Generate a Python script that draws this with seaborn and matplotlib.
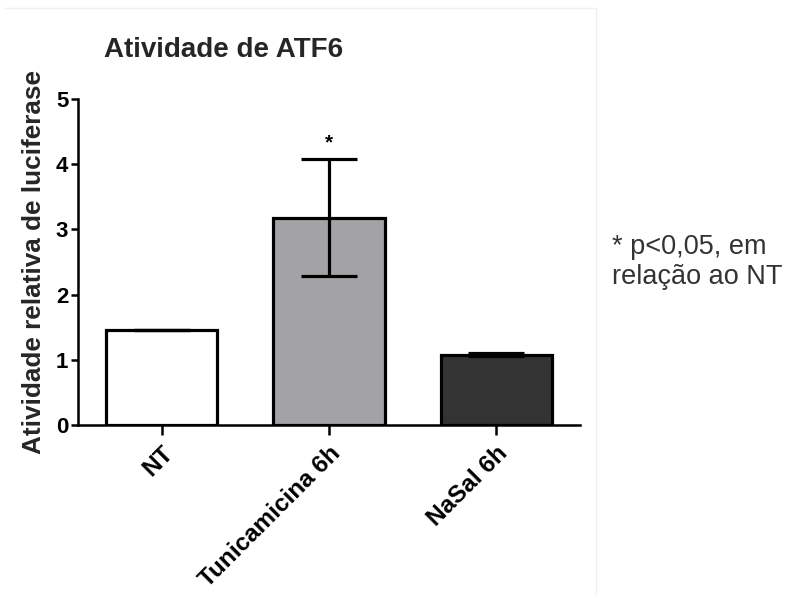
import matplotlib
matplotlib.use("Agg")
import matplotlib.pyplot as plt
from matplotlib.lines import Line2D
import seaborn as sns
import pandas as pd

# Luciferase reporter data (mean ± SEM)
groups = ["NT", "Tunicamicina 6h", "NaSal 6h"]
means = [1.46, 3.18, 1.08]
sems = [0.0, 0.90, 0.02]
bar_colors = ["#ffffff", "#a2a2a7", "#333333"]
y_ticks = [0, 1, 2, 3, 4, 5]

sns.set_theme(style="ticks")
plt.rcParams["font.family"] = ["Liberation Sans", "DejaVu Sans"]

df = pd.DataFrame({"grupo": groups, "atividade": means})

fig = plt.figure(figsize=(7.88, 5.95), dpi=100)
ax = fig.add_axes([78 / 788, 1 - 425 / 595, (580 - 78) / 788, (425 - 99) / 595])

sns.barplot(data=df, x="grupo", y="atividade", hue="grupo", palette=bar_colors,
            order=groups, hue_order=groups, width=0.665, errorbar=None,
            edgecolor="black", linewidth=2.3, legend=False, ax=ax, zorder=2)

ax.errorbar(range(len(groups)), means, yerr=sems, fmt="none", ecolor="black",
            elinewidth=2.3, capsize=20, capthick=2.3, zorder=3)

ax.text(1, 4.33, "*", ha="center", va="center", fontsize=15, fontweight="bold",
        color="black")

ax.set_xlim(-0.5, 2.5)
ax.set_ylim(0, 5)
ax.set_yticks(y_ticks)
ax.set_yticklabels([str(t) for t in y_ticks], fontsize=16, fontweight="bold")
ax.set_xticks(range(len(groups)))
ax.set_xticklabels(groups, fontsize=17.5, fontweight="bold", rotation=45,
                   ha="right", va="top", rotation_mode="anchor")
ax.set_xlabel("")
ax.set_ylabel("Atividade relativa de luciferase", fontsize=18.8, fontweight="bold",
              labelpad=7)

sns.despine(ax=ax)
for side in ("left", "bottom"):
    ax.spines[side].set_linewidth(1.8)
    ax.spines[side].set_color("black")
ax.tick_params(axis="y", length=5, width=1.8, pad=2, colors="black")
ax.tick_params(axis="x", length=7, width=1.8, pad=5, colors="black")

fig.text(224 / 788, 1 - 50 / 595, "Atividade de ATF6", ha="center", va="center",
         fontsize=20, fontweight="bold")

fig.text(612 / 788, 1 - 247 / 595, "* p<0,05, em", ha="left", va="center",
         fontsize=19.5, color="#333333")
fig.text(612 / 788, 1 - 277 / 595, "relação ao NT", ha="left", va="center",
         fontsize=19.5, color="#333333")

# faint page frame
fig.add_artist(Line2D([5 / 788, 596 / 788], [1 - 8 / 595, 1 - 8 / 595],
                      transform=fig.transFigure, color="#eeeeee", lw=1))
fig.add_artist(Line2D([596 / 788, 596 / 788], [1 - 8 / 595, 0],
                      transform=fig.transFigure, color="#eeeeee", lw=1))

fig.savefig("out.png", dpi=100)
